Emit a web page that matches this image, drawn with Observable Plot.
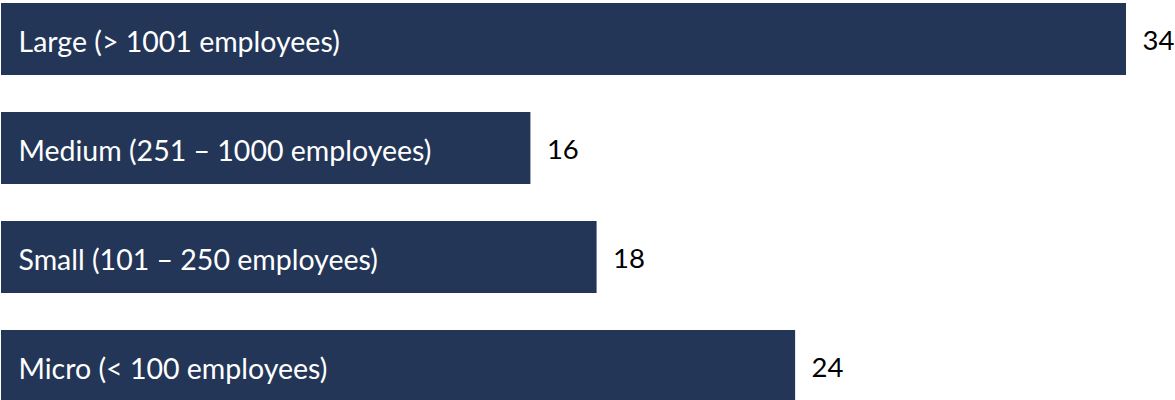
<!DOCTYPE html>
<html>
<head>
<meta charset="utf-8">
<script src="https://cdn.jsdelivr.net/npm/d3@7"></script>
<script src="https://cdn.jsdelivr.net/npm/@observablehq/plot@0.6"></script>
<style>
  html, body { margin: 0; padding: 0; background: #fff; }
  #chart svg { display: block; }
</style>
</head>
<body>
<div id="chart"></div>
<script>
const categories = [
  "Large (> 1001 employees)",
  "Medium (251 – 1000 employees)",
  "Small (101 – 250 employees)",
  "Micro (< 100 employees)"
];
const values = [34, 16, 18, 24];

const data = categories.map((c, i) => ({category: c, value: values[i]}));

const chart = Plot.plot({
  width: 1175,
  height: 400,
  marginTop: 0, marginBottom: 0, marginLeft: 0, marginRight: 0,
  style: {fontFamily: "Lato, 'Open Sans', sans-serif", background: "#fff"},
  x: {domain: [0, 34], range: [1, 1126], axis: null},
  y: {domain: categories, range: [3, 402.5], paddingInner: 0.335, paddingOuter: 0, align: 0, axis: null},
  marks: [
    Plot.barX(data, {x: "value", y: "category", fill: "#233657"}),
    Plot.text(data, {x: 0, y: "category", text: "category", textAnchor: "start", dx: 17, dy: 3, fill: "#ffffff", fontSize: 28.5}),
    Plot.text(data, {x: "value", y: "category", text: d => String(d.value), textAnchor: "start", dx: 16, dy: 2, fill: "#000000", fontSize: 27.5})
  ]
});
document.getElementById("chart").appendChild(chart);
</script>
</body>
</html>
